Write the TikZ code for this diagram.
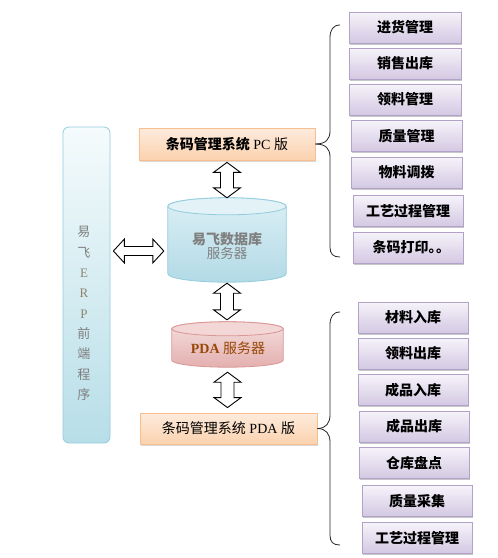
\documentclass[tikz,border=0pt]{standalone}
\usepackage{fontspec}
\setmainfont{Liberation Serif}
\newfontfamily\cjk{Noto Sans CJK SC}
\usetikzlibrary{calc,shadows}
\definecolor{itemline}{HTML}{B3A2C7}
\definecolor{itemtop}{HTML}{F6F3FA}
\definecolor{itembot}{HTML}{D3C8E2}
\definecolor{sysline}{HTML}{F9BE8E}
\definecolor{systop}{HTML}{FDEBDD}
\definecolor{sysbot}{HTML}{FBD2AE}
\definecolor{blueline}{HTML}{93CDDD}
\definecolor{bluetop}{HTML}{F5FBFC}
\definecolor{bluebot}{HTML}{B7DEE8}
\definecolor{dbtop}{HTML}{DCEFF5}
\definecolor{dbbot}{HTML}{B2DAE6}
\definecolor{dbcap}{HTML}{E2F2F7}
\definecolor{pinkline}{HTML}{D99694}
\definecolor{pinktop}{HTML}{F4DEDD}
\definecolor{pinkbot}{HTML}{E3B0AF}
\definecolor{pinkcap}{HTML}{F2D7D6}
\definecolor{graytext}{HTML}{7F7F7F}
\definecolor{erptext}{HTML}{8E8470}
\definecolor{browntext}{HTML}{984807}
\begin{document}
\begin{tikzpicture}[x=1pt,y=-1pt,
  item/.style={draw=itemline, line width=0.8pt, top color=itemtop, bottom color=itembot,
    minimum height=31pt, inner sep=0pt, text=black,
    font=\cjk\bfseries\fontsize{14}{16}\selectfont,
    drop shadow={shadow xshift=1.2pt, shadow yshift=-1.8pt, fill=black, opacity=0.22}},
  sysbox/.style={draw=sysline, line width=0.8pt, top color=systop, bottom color=sysbot,
    inner sep=0pt, text=black, font=\fontsize{14}{16}\selectfont,
    drop shadow={shadow xshift=0.8pt, shadow yshift=-1.5pt, fill=black, opacity=0.15}},
  footprint/.style={draw=none, inner sep=0pt},
  bracestyle/.style={draw=black!85, line width=0.8pt},
  vdbl/.style={draw=black, fill=white, line width=0.9pt, line join=miter,
    to path={let \p1=(\tikztostart), \p2=(\tikztotarget) in
      (\x1,\y1) -- (\x1+13.5pt,\y1-10pt) -- (\x1+6.5pt,\y1-10pt) -- (\x1+6.5pt,\y2+10pt)
      -- (\x1+13.5pt,\y2+10pt) -- (\x1,\y2) -- (\x1-13.5pt,\y2+10pt) -- (\x1-6.5pt,\y2+10pt)
      -- (\x1-6.5pt,\y1-10pt) -- (\x1-13.5pt,\y1-10pt) -- cycle}},
  hdbl/.style={draw=black, fill=white, line width=0.9pt, line join=miter,
    to path={let \p1=(\tikztostart), \p2=(\tikztotarget) in
      (\x1,\y1) -- (\x1+11pt,\y1+12pt) -- (\x1+11pt,\y1+4.5pt) -- (\x2-11pt,\y1+4.5pt)
      -- (\x2-11pt,\y1+12pt) -- (\x2,\y1) -- (\x2-11pt,\y1-12pt) -- (\x2-11pt,\y1-4.5pt)
      -- (\x1+11pt,\y1-4.5pt) -- (\x1+11pt,\y1-12pt) -- cycle}}
]
\fill[white] (0,0) rectangle (498,558);
\useasboundingbox (0,0) rectangle (498,558);

% left front-end box
\node[draw=blueline, line width=0.8pt, rounded corners=6pt, top color=bluetop, bottom color=bluebot,
  minimum width=47pt, minimum height=316pt, inner sep=0pt] (erp) at (86.5,285) {};
\node[align=center, inner sep=0pt, font=\fontsize{13}{20.3}\selectfont, text=graytext] (erptxt) at (84,313.5)
  {{\cjk 易}\\{\cjk 飞}\\\textcolor{erptext}{E}\\\textcolor{erptext}{R}\\\textcolor{erptext}{P}\\{\cjk 前}\\{\cjk 端}\\{\cjk 程}\\{\cjk 序}};

% PC system box
\node[sysbox, minimum width=176pt, minimum height=32pt] (pc) at (227,144)
  {{\cjk\bfseries 条码管理系统} PC {\cjk 版}};

% database cylinder
\node[footprint, minimum width=118pt, minimum height=84pt] (db) at (227,240) {};
\path[draw=blueline, line width=0.8pt, top color=dbtop, bottom color=dbbot]
  let \p1=(db.north west), \p2=(db.south east), \n1={(\x2-\x1)/2} in
  (\x1,\y1-8.5pt) -- (\x1,\y2+8.5pt) arc[start angle=180, end angle=360, x radius=\n1, y radius=8.5pt]
  -- (\x2,\y1-8.5pt) arc[start angle=0, end angle=180, x radius=\n1, y radius=8.5pt] -- cycle;
\path[draw=blueline, line width=0.8pt, fill=dbcap]
  let \p1=(db.north west), \p2=(db.south east), \p3=(db.north), \n1={(\x2-\x1)/2} in
  (\x3,\y3-8.5pt) ellipse [x radius=\n1, y radius=8.5pt];
\node[align=center, inner sep=0pt, text=graytext] (dbtxt) at (227,246)
  {{\cjk\bfseries\fontsize{14}{22}\selectfont 易飞数据库}\\{\cjk\fontsize{13.5}{22}\selectfont 服务器}};

% PDA server cylinder
\node[footprint, minimum width=111pt, minimum height=45pt] (pdas) at (227.5,344.5) {};
\path[draw=pinkline, line width=0.8pt, top color=pinktop, bottom color=pinkbot]
  let \p1=(pdas.north west), \p2=(pdas.south east), \n1={(\x2-\x1)/2} in
  (\x1,\y1-7pt) -- (\x1,\y2+7pt) arc[start angle=180, end angle=360, x radius=\n1, y radius=7pt]
  -- (\x2,\y1-7pt) arc[start angle=0, end angle=180, x radius=\n1, y radius=7pt] -- cycle;
\path[draw=pinkline, line width=0.8pt, fill=pinkcap]
  let \p1=(pdas.north west), \p2=(pdas.south east), \p3=(pdas.north), \n1={(\x2-\x1)/2} in
  (\x3,\y3-7pt) ellipse [x radius=\n1, y radius=7pt];
\node[inner sep=0pt, text=browntext, font=\fontsize{14}{16}\selectfont] (pdastxt) at (228,348)
  {\textbf{PDA} {\cjk 服务器}};

% PDA system box
\node[sysbox, minimum width=177pt, minimum height=31pt] (pda) at (228.5,428.5)
  {{\cjk 条码管理系统} PDA {\cjk 版}};

% block arrows
\draw[vdbl] ($(pc.south)+(0,2)$) to ($(db.north)+(0,0)$);
\draw[vdbl] ($(db.south)+(0,1)$) to ($(pdas.north)+(0,-2)$);
\draw[vdbl] ($(pdas.south)+(0,5)$) to ($(pda.north)+(0,-5)$);
\coordinate (hy) at (0,251);
\draw[hdbl] ($(erp.east |- hy)+(3,0)$) to ($(db.west |- hy)+(-4,0)$);

% PC items
\node[item, minimum width=112pt] (p1) at (405,27.5) {进货管理};
\node[item, minimum width=112pt] (p2) at (405,63.5) {销售出库};
\node[item, minimum width=112pt] (p3) at (405,99.5) {领料管理};
\node[item, minimum width=111pt] (p4) at (406.5,136) {质量管理};
\node[item, minimum width=111pt] (p5) at (406.5,172.5) {物料调拨};
\node[item, minimum width=110pt] (p6) at (408,211) {工艺过程管理};
\node[item, minimum width=110pt] (p7) at (408,247.5) {条码打印。\kern-6.5pt。\kern-6.5pt};

% PDA items
\node[item, minimum width=110pt] (d1) at (413,317.5) {材料入库};
\node[item, minimum width=110pt] (d2) at (413,353.5) {领料出库};
\node[item, minimum width=110pt] (d3) at (413,390) {成品入库};
\node[item, minimum width=110pt] (d4) at (414,426.5) {成品出库};
\node[item, minimum width=110pt] (d5) at (414,463) {仓库盘点};
\node[item, minimum width=110pt] (d6) at (417,501) {质量采集};
\node[item, minimum width=110pt] (d7) at (417,538) {工艺过程管理};

% braces
\coordinate (pcTop) at (340,25);
\coordinate (pcBot) at (340,257);
\draw[bracestyle] (pcTop) .. controls (333,25) and (330,30) .. (330,38) -- (330,131)
  .. controls (330,139) and (326,144) .. (pc.east);
\draw[bracestyle] (pc.east) .. controls (326,144) and (330,149) .. (330,157) -- (330,247)
  .. controls (330,254) and (333,257) .. (pcBot);
\coordinate (pdTop) at (340,312);
\coordinate (pdBot) at (340,545);
\draw[bracestyle] (pdTop) .. controls (333,312) and (330,317) .. (330,325) -- (330,415)
  .. controls (330,423) and (326,428.5) .. (pda.east);
\draw[bracestyle] (pda.east) .. controls (326,428.5) and (330,434) .. (330,442) -- (330,535)
  .. controls (330,542) and (333,545) .. (pdBot);
\end{tikzpicture}
\end{document}
